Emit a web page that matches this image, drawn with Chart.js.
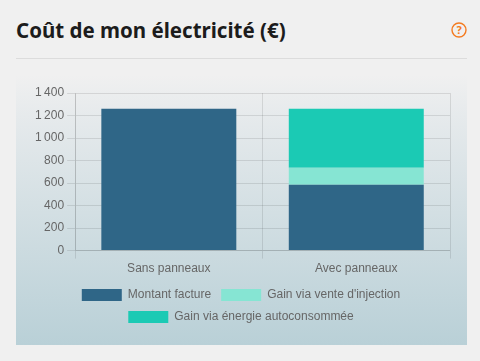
<!DOCTYPE html>
<html lang="fr">
<head>
<meta charset="utf-8">
<title>Coût de mon électricité</title>
<script src="https://cdn.jsdelivr.net/npm/chart.js@4"></script>
<style>
  html, body { margin: 0; padding: 0; background: #f0f0f0; width: 480px; height: 361px; overflow: hidden; }
  h1 { position: absolute; left: 16px; top: 15px; margin: 0; font: 700 20.5px/30px "Noto Sans", sans-serif; color: #1c1c1c; }
  .help { position: absolute; left: 451px; top: 22px; }
  .rule { position: absolute; left: 16px; top: 58px; width: 451px; height: 1px; background: #dcdcdc; }
  .panel { position: absolute; left: 16px; top: 75px; width: 451px; height: 270px; background: linear-gradient(#f0f0f0, #e6eaec 15%, #b9d0d7); }
</style>
</head>
<body>
<h1>Coût de mon électricité (€)</h1>
<svg class="help" width="16" height="16" viewBox="0 0 16 16">
  <circle cx="8" cy="8" r="7" fill="none" stroke="#f47b20" stroke-width="1.4"/>
  <text x="8" y="12" text-anchor="middle" font-family="Noto Sans" font-weight="700" font-size="11" fill="#f47b20">?</text>
</svg>
<div class="rule"></div>
<div class="panel"><canvas id="coutChart" width="451" height="270"></canvas></div>
<script>
var categories = ["Sans panneaux", "Avec panneaux"];
var montantFacture = [1260, 586];
var gainInjection = [0, 150];
var gainAutoconso = [0, 524];

Chart.defaults.font.family = "'Liberation Sans', Arial, sans-serif";
Chart.defaults.font.size = 12;
Chart.defaults.color = "#666";

var coutChart = new Chart(document.getElementById("coutChart"), {
  type: "bar",
  data: {
    labels: categories,
    datasets: [
      { label: "Montant facture", data: montantFacture, backgroundColor: "#2f6687" },
      { label: "Gain via vente d'injection", data: gainInjection, backgroundColor: "#86e5d3" },
      { label: "Gain via énergie autoconsommée", data: gainAutoconso, backgroundColor: "#1bcab4" }
    ]
  },
  options: {
    responsive: false,
    animation: false,
    layout: { padding: { left: 16, right: 17, top: 18, bottom: 12 } },
    plugins: {
      legend: { position: "bottom" },
      tooltip: { enabled: false }
    },
    scales: {
      x: { stacked: true },
      y: {
        stacked: true,
        min: 0,
        max: 1400,
        ticks: {
          stepSize: 200,
          callback: function (value) { return value.toLocaleString("fr-FR"); }
        }
      }
    }
  }
});
</script>
</body>
</html>
